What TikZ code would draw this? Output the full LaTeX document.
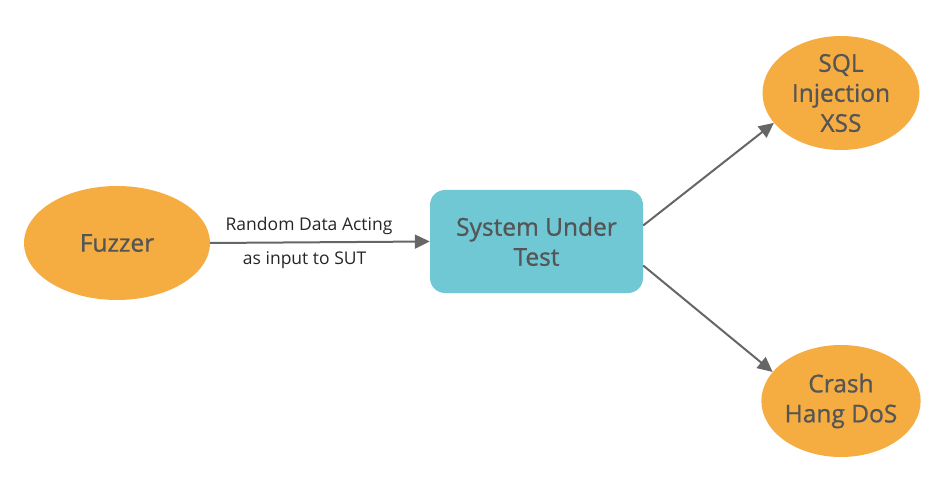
\documentclass[tikz,border=0pt]{standalone}
\usepackage{fontspec}
\setmainfont{Open Sans}
\newfontfamily\medfont{Open Sans}[FakeBold=0.9]
\usetikzlibrary{shapes.geometric,arrows.meta}
\definecolor{orng}{HTML}{F5AD42}
\definecolor{cyanbox}{HTML}{6FC8D4}
\definecolor{txt}{HTML}{555555}
\definecolor{arr}{HTML}{666666}
\tikzset{
  oval/.style={ellipse, fill=orng, draw=none, inner sep=0pt, text=txt, align=center,
    font=\medfont\fontsize{24.5}{30}\selectfont},
  sutbox/.style={rectangle, rounded corners=15pt, fill=cyanbox, draw=none, text=txt, align=center,
    minimum width=213pt, minimum height=103pt, font=\medfont\fontsize{24.5}{30}\selectfont},
  conn/.style={draw=arr, line width=2pt, -{Triangle[length=15pt,width=14pt]}},
  lbl/.style={text=black!85, font=\fontsize{17.5}{18}\selectfont}
}
\begin{document}
\begin{tikzpicture}[x=1pt,y=1pt]
\useasboundingbox (0,0) rectangle (947,485);
\node[oval, minimum width=186pt, minimum height=114pt] (fuzz) at (117,242) {Fuzzer};
\node[sutbox] (sut) at (536.5,243.5) {System Under\\Test};
\node[oval, minimum width=157pt, minimum height=114pt] (sql) at (841,392) {SQL\\Injection\\XSS};
\node[oval, minimum width=157pt, minimum height=112pt] (crash) at (841,84) {Crash\\Hang DoS};
\coordinate (s1) at ([yshift=16pt]sut.east);
\coordinate (s2) at ([yshift=-24pt]sut.east);
\draw[conn] (fuzz.east) -- node[lbl, pos=0.45, above=3pt] {Random Data Acting} node[lbl, pos=0.43, below=5pt] {as input to SUT} (sut.west);
\draw[conn] (s1) -- (sql.204);
\draw[conn] (s2) -- (crash.157);
\end{tikzpicture}
\end{document}
